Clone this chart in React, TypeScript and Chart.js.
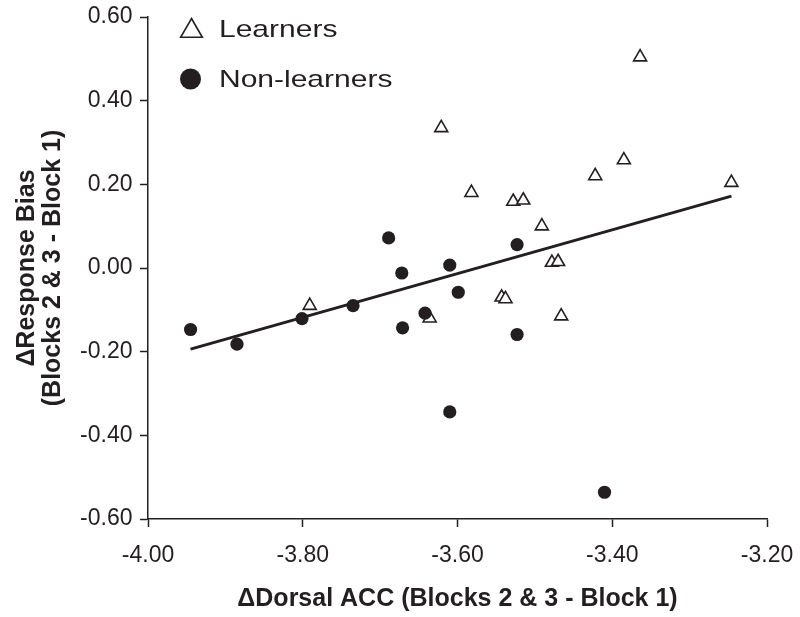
import React, { useEffect, useRef } from 'react';
import { Chart, registerables } from 'chart.js';

Chart.register(...registerables);

// ---- Data ----
const learnersX = [-3.791, -3.636, -3.621, -3.582, -3.528, -3.515, -3.491, -3.422, -3.385, -3.364, -3.246, -3.478, -3.470, -3.543, -3.538, -3.466];
const learnersY = [-0.090, -0.120, 0.335, 0.180, 0.159, 0.162, 0.100, 0.220, 0.258, 0.504, 0.204, 0.013, 0.015, -0.070, -0.074, -0.115];
const nonLearnersX = [-3.945, -3.885, -3.801, -3.735, -3.689, -3.672, -3.671, -3.642, -3.610, -3.599, -3.610, -3.523, -3.523, -3.410];
const nonLearnersY = [-0.147, -0.182, -0.121, -0.090, 0.072, -0.012, -0.143, -0.108, 0.007, -0.058, -0.344, 0.056, -0.159, -0.536];

const seriesLabels = ['Learners', 'Non-learners'];
const xTickValues = [-4.0, -3.8, -3.6, -3.4, -3.2];
const yTickValues = [-0.6, -0.4, -0.2, 0.0, 0.2, 0.4, 0.6];
const xTitle = '\u0394Dorsal ACC (Blocks 2 & 3 - Block 1)';
const yTitle = ['\u0394Response Bias', '(Blocks 2 & 3 - Block 1)'];

const INK = '#231f20';
const FONT = "'Liberation Sans', Arial, Helvetica, sans-serif";

function toPoints(xs: number[], ys: number[]) {
  return xs.map((x, i) => ({ x, y: ys[i] }));
}

// Ordinary least-squares fit over all points, spanning the data's x range
function fitLine(xs: number[], ys: number[]) {
  const n = xs.length;
  const mx = xs.reduce((a, b) => a + b, 0) / n;
  const my = ys.reduce((a, b) => a + b, 0) / n;
  let sxy = 0;
  let sxx = 0;
  for (let i = 0; i < n; i++) {
    sxy += (xs[i] - mx) * (ys[i] - my);
    sxx += (xs[i] - mx) * (xs[i] - mx);
  }
  const b = sxy / sxx;
  const a = my - b * mx;
  const x0 = Math.min(...xs);
  const x1 = Math.max(...xs);
  return [
    { x: x0, y: a + b * x0 },
    { x: x1, y: a + b * x1 },
  ];
}

const legendPlugin = {
  id: 'insideLegend',
  afterDraw(chart: any) {
    const ctx = chart.ctx as CanvasRenderingContext2D;
    const ca = chart.chartArea;
    const ds = chart.data.datasets;
    ctx.save();
    // Learners: open triangle
    const tx = ca.left + 43.5;
    const ty = ca.top + 14;
    const r = 12.5;
    ctx.beginPath();
    ctx.moveTo(tx, ty - r);
    ctx.lineTo(tx + Math.sin((2 * Math.PI) / 3) * r, ty + r / 2);
    ctx.lineTo(tx - Math.sin((2 * Math.PI) / 3) * r, ty + r / 2);
    ctx.closePath();
    ctx.fillStyle = '#ffffff';
    ctx.fill();
    ctx.lineWidth = 1.6;
    ctx.strokeStyle = INK;
    ctx.stroke();
    // Non-learners: filled circle
    const cx = ca.left + 42.5;
    const cy = ca.top + 62;
    ctx.beginPath();
    ctx.arc(cx, cy, 10.5, 0, Math.PI * 2);
    ctx.fillStyle = INK;
    ctx.fill();

    ctx.fillStyle = INK;
    ctx.font = `24px ${FONT}`;
    ctx.textAlign = 'left';
    ctx.textBaseline = 'alphabetic';
    const labels = [ds[1].label, ds[2].label];
    const baselines = [ca.top + 20, ca.top + 70];
    labels.forEach((lab: string, i: number) => {
      ctx.save();
      ctx.translate(ca.left + 71, baselines[i]);
      ctx.scale(1.25, 1);
      ctx.fillText(lab, 0, 0);
      ctx.restore();
    });
    ctx.restore();
  },
};

export default function App() {
  const canvasRef = useRef<HTMLCanvasElement | null>(null);

  useEffect(() => {
    document.body.style.margin = '0';
    const canvas = canvasRef.current;
    if (!canvas) return;

    const allX = [...learnersX, ...nonLearnersX];
    const allY = [...learnersY, ...nonLearnersY];
    const fit = fitLine(allX, allY);

    const chart = new Chart(canvas, {
      type: 'scatter',
      data: {
        datasets: [
          {
            label: 'Fit',
            data: fit,
            showLine: true,
            borderColor: INK,
            borderWidth: 3,
            pointRadius: 0,
            pointHoverRadius: 0,
            fill: false,
            order: 0,
          } as any,
          {
            label: seriesLabels[0],
            data: toPoints(learnersX, learnersY),
            pointStyle: 'triangle',
            pointRadius: 7.5,
            pointHoverRadius: 7.5,
            pointBorderWidth: 1.6,
            borderColor: INK,
            backgroundColor: '#ffffff',
            order: 2,
          },
          {
            label: seriesLabels[1],
            data: toPoints(nonLearnersX, nonLearnersY),
            pointStyle: 'circle',
            pointRadius: 6.6,
            pointHoverRadius: 6.6,
            pointBorderWidth: 0,
            borderColor: INK,
            backgroundColor: INK,
            order: 1,
          },
        ],
      },
      options: {
        responsive: false,
        animation: false,
        layout: { padding: { left: 0, right: 33, top: 17, bottom: 0 } },
        plugins: {
          legend: { display: false },
          tooltip: { enabled: false },
        },
        scales: {
          x: {
            type: 'linear',
            min: xTickValues[0],
            max: xTickValues[xTickValues.length - 1],
            afterBuildTicks: (scale: any) => {
              scale.ticks = xTickValues.map((v) => ({ value: v }));
            },
            afterFit: (scale: any) => {
              scale.height = 98;
              scale.paddingLeft = 0;
              scale.paddingRight = 0;
            },
            grid: {
              drawOnChartArea: false,
              drawTicks: true,
              tickLength: 8,
              tickColor: INK,
              tickWidth: 1.5,
            },
            border: { display: true, color: INK, width: 1.5 },
            ticks: {
              color: INK,
              padding: 15,
              maxRotation: 0,
              font: { family: FONT, size: 23 },
              callback: (v: any) => Number(v).toFixed(2),
            },
            title: {
              display: true,
              text: xTitle,
              color: INK,
              font: { family: FONT, size: 25, weight: 'bold' },
              padding: { top: 0, bottom: 3 },
            },
          },
          y: {
            type: 'linear',
            min: yTickValues[0],
            max: yTickValues[yTickValues.length - 1],
            afterBuildTicks: (scale: any) => {
              scale.ticks = yTickValues.map((v) => ({ value: v }));
            },
            afterFit: (scale: any) => {
              scale.width = 148;
              scale.paddingTop = 0;
              scale.paddingBottom = 0;
            },
            grid: {
              drawOnChartArea: false,
              drawTicks: true,
              tickLength: 8,
              tickColor: INK,
              tickWidth: 1.5,
            },
            border: { display: true, color: INK, width: 1.5 },
            ticks: {
              color: INK,
              padding: 7.5,
              font: { family: FONT, size: 23 },
              callback: (v: any) => {
                const n = Math.abs(Number(v)) < 1e-9 ? 0 : Number(v);
                return n.toFixed(2);
              },
            },
            title: {
              display: true,
              text: yTitle,
              color: INK,
              font: { family: FONT, size: 25, weight: 'bold', lineHeight: 1.04 },
              padding: { top: 14, bottom: 0 },
            },
          },
        },
      },
      plugins: [legendPlugin],
    });

    return () => {
      chart.destroy();
    };
  }, []);

  return (
    <div style={{ width: 800, height: 617, background: '#ffffff' }}>
      <canvas ref={canvasRef} width={800} height={617} style={{ display: 'block' }} />
    </div>
  );
}
